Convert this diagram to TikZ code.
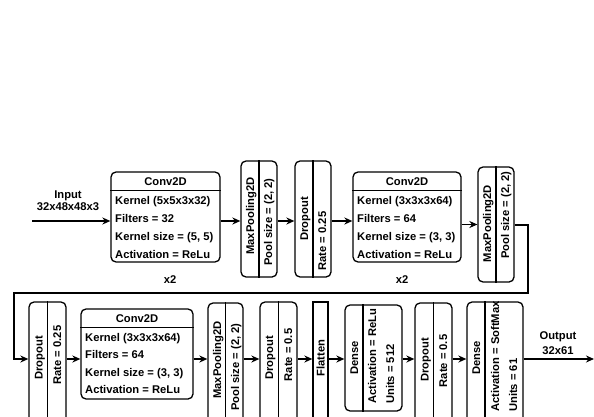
\documentclass[tikz,border=0pt]{standalone}
\usepackage{fontspec}
\setmainfont{Liberation Sans}
\usetikzlibrary{arrows.meta}
\begin{document}
\begin{tikzpicture}[x=1pt,y=-1pt,
  box/.style={draw, line width=1.3pt, rounded corners=5pt, inner sep=0pt},
  sbox/.style={draw, line width=1.3pt, inner sep=0pt},
  lbl/.style={inner sep=0pt, text height=8pt, text depth=0pt, font=\fontsize{11.2}{13}\selectfont\bfseries},
  vl/.style={lbl, rotate=90},
  arr/.style={line width=1.3pt, -{Stealth[length=8pt,width=7pt]}},
  sep/.style={line width=1.3pt}]
\clip (0,0) rectangle (594,417);
% ---------- row 1 ----------
\node[box, minimum width=109pt, minimum height=90pt] (conv1) at (165.5,217) {};
\draw[sep] ([yshift=-19pt]conv1.north west) -- ([yshift=-19pt]conv1.north east);
\node[lbl] (c1h) at (165.5,181.5) {Conv2D};
\node[lbl, anchor=west] (c1a) at (115,200) {Kernel (5x5x3x32)};
\node[lbl, anchor=west] (c1b) at (115,218) {Filters = 32};
\node[lbl, anchor=west] (c1c) at (115,236) {Kernel size = (5, 5)};
\node[lbl, anchor=west] (c1d) at (115,254) {Activation = ReLu};
\node[lbl] (x2a) at (170,279) {x2};

\node[box, minimum width=36pt, minimum height=116pt] (mp1) at (259,219) {};
\draw[sep] (mp1.north) -- (mp1.south);
\node[vl] (mp1a) at (250,216) {MaxPooling2D};
\node[vl] (mp1b) at (268,222) {Pool size = (2, 2)};

\node[box, minimum width=36pt, minimum height=116pt] (do1) at (313,219) {};
\draw[sep] (do1.north) -- (do1.south);
\node[vl] (do1a) at (304,219) {Dropout};
\node[vl] (do1b) at (322,241) {Rate = 0.25};

\node[box, minimum width=108pt, minimum height=90pt] (conv2) at (407,217) {};
\draw[sep] ([yshift=-19pt]conv2.north west) -- ([yshift=-19pt]conv2.north east);
\node[lbl] (c2h) at (407,181.5) {Conv2D};
\node[lbl, anchor=west] (c2a) at (357,200) {Kernel (3x3x3x64)};
\node[lbl, anchor=west] (c2b) at (357,218) {Filters = 64};
\node[lbl, anchor=west] (c2c) at (357,236) {Kernel size = (3, 3)};
\node[lbl, anchor=west] (c2d) at (357,254) {Activation = ReLu};
\node[lbl] (x2b) at (402,279) {x2};

\node[box, minimum width=36pt, minimum height=115pt] (mp2) at (496,224.5) {};
\draw[sep] (mp2.north) -- (mp2.south);
\node[vl] (mp2a) at (487,223.5) {MaxPooling2D};
\node[vl] (mp2b) at (505,215) {Pool size = (2, 2)};

\node[lbl] (inA) at (68,194) {Input};
\node[lbl] (inB) at (68,206) {32x48x48x3};

% ---------- row 2 ----------
\node[box, minimum width=37pt, minimum height=124pt] (do3) at (47.5,364) {};
\draw[sep] (do3.north) -- (do3.south);
\node[vl] (do3a) at (38.5,358) {Dropout};
\node[vl] (do3b) at (57,355) {Rate = 0.25};

\node[box, minimum width=112pt, minimum height=90pt] (conv3) at (137,354) {};
\draw[sep] ([yshift=-19pt]conv3.north west) -- ([yshift=-19pt]conv3.north east);
\node[lbl] (c3h) at (137,318.5) {Conv2D};
\node[lbl, anchor=west] (c3a) at (85,337) {Kernel (3x3x3x64)};
\node[lbl, anchor=west] (c3b) at (85,354.5) {Filters = 64};
\node[lbl, anchor=west] (c3c) at (85,372) {Kernel size = (3, 3)};
\node[lbl, anchor=west] (c3d) at (85,389.5) {Activation = ReLu};

\node[box, minimum width=35pt, minimum height=124pt] (mp3) at (225.5,365) {};
\draw[sep] (mp3.north) -- (mp3.south);
\node[vl] (mp3a) at (217,360) {MaxPooling2D};
\node[vl] (mp3b) at (235,367) {Pool size = (2, 2)};

\node[box, minimum width=37pt, minimum height=124pt] (do4) at (278.5,364) {};
\draw[sep] (do4.north) -- (do4.south);
\node[vl] (do4a) at (269,358) {Dropout};
\node[vl] (do4b) at (288,355) {Rate = 0.5};

\node[sbox, minimum width=15pt, minimum height=124pt] (flat) at (320.5,364) {};
\node[vl] (flata) at (320.5,358) {Flatten};

\node[box, minimum width=57pt, minimum height=106pt] (dense1) at (373.5,358) {};
\draw[sep] ([xshift=-10.5pt]dense1.north) -- ([xshift=-10.5pt]dense1.south);
\node[vl] (de1a) at (354,358) {Dense};
\node[vl, anchor=west] (de1b) at (372,404) {Activation = ReLu};
\node[vl, anchor=west] (de1c) at (390,404) {Units = 512};

\node[box, minimum width=37pt, minimum height=124pt] (do5) at (433.5,365) {};
\draw[sep] (do5.north) -- (do5.south);
\node[vl] (do5a) at (424.5,360) {Dropout};
\node[vl] (do5b) at (443,361) {Rate = 0.5};

\node[box, minimum width=56pt, minimum height=124pt] (dense2) at (495,364) {};
\draw[sep] ([xshift=-10pt]dense2.north) -- ([xshift=-10pt]dense2.south);
\node[vl] (de2a) at (476,358) {Dense};
\node[vl, anchor=west] (de2b) at (495,412) {Activation = SoftMax};
\node[vl, anchor=west] (de2c) at (513,412) {Units = 61};

\node[lbl] (outA) at (558,335) {Output};
\node[lbl] (outB) at (558,350) {32x61};

% ---------- connectors ----------
\coordinate (r1) at (0,221);
\coordinate (r2) at (0,359);
\coordinate (inS) at (32,221);
\coordinate (outE) at (594,359);
\coordinate (m2o) at (0,225);
\coordinate (bendR) at (528,293);
\coordinate (bendL) at (14,293);

\draw[arr] (inS) -- (conv1.west |- r1);
\draw[arr] (conv1.east |- r1) -- (mp1.west |- r1);
\draw[arr] (mp1.east |- r1) -- (do1.west |- r1);
\draw[arr] (do1.east |- r1) -- (conv2.west |- r1);
\draw[arr] (conv2.east |- mp2.west) -- (mp2.west);
\draw[arr] (mp2.east |- m2o) -| (bendR) -- (bendL) |- (do3.west |- r2);
\draw[arr] (do3.east |- r2) -- (conv3.west |- r2);
\draw[arr] (conv3.east |- r2) -- (mp3.west |- r2);
\draw[arr] (mp3.east |- r2) -- (do4.west |- r2);
\draw[arr] (do4.east |- r2) -- (flat.west |- r2);
\draw[arr] (flat.east |- r2) -- (dense1.west |- r2);
\draw[arr] (dense1.east |- r2) -- (do5.west |- r2);
\draw[arr] (do5.east |- r2) -- (dense2.west |- r2);
\draw[arr] (dense2.east |- r2) -- (outE);
\end{tikzpicture}
\end{document}
